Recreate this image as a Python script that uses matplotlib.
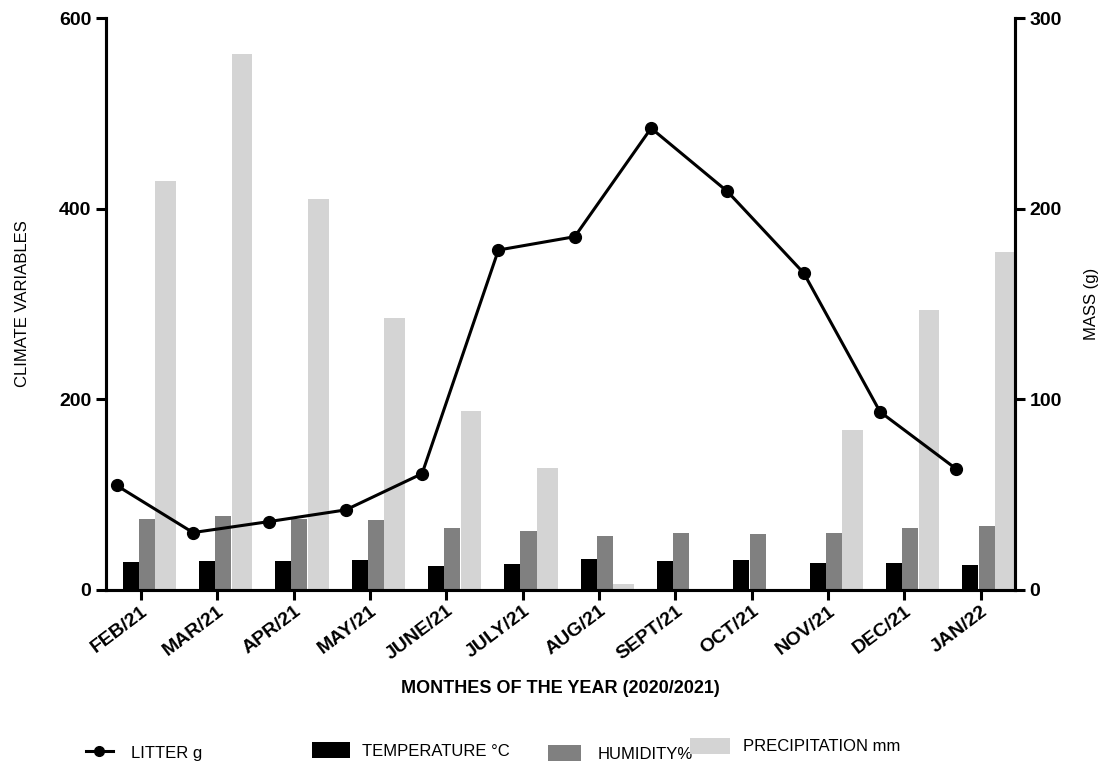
import matplotlib
matplotlib.use("Agg")
import matplotlib.pyplot as plt
from matplotlib.patches import Patch
from matplotlib.lines import Line2D
import numpy as np

months = ["FEB/21", "MAR/21", "APR/21", "MAY/21", "JUNE/21", "JULY/21",
          "AUG/21", "SEPT/21", "OCT/21", "NOV/21", "DEC/21", "JAN/22"]
temperature = [29.1, 30.1, 30.1, 31.9, 25.6, 27.7, 32.6, 30.1, 31.2, 28.0, 28.0, 26.6]
humidity = [74.9, 77.4, 74.3, 73.9, 65.1, 62.0, 57.1, 59.5, 58.8, 59.5, 64.8, 66.9]
precipitation = [428.7, 562.2, 410.5, 284.8, 187.8, 127.5, 6.6, 0, 0, 168.1, 294.2, 354.4]
litter = [54.8, 30.1, 35.9, 42.0, 61.0, 178.3, 185.3, 242.2, 209.0, 166.2, 93.4, 63.4]

plt.rcParams["font.family"] = ["Liberation Sans", "DejaVu Sans"]

fig = plt.figure(figsize=(11.02, 7.66), dpi=100)
ax = fig.add_axes([0.0962, 0.2298, 0.8248, 0.7467])
ax2 = ax.twinx()

x = np.arange(len(months))
ax.bar(x - 0.135, temperature, width=0.21, color="black", zorder=2)
ax.bar(x + 0.076, humidity, width=0.21, color="#808080", zorder=2)
ax.bar(x + 0.323, precipitation, width=0.27, color="#d4d4d4", zorder=2)

ax2.plot(x - 0.318, litter, color="black", lw=2.2, marker="o", ms=8.5, zorder=3)

ax.set_xlim(-0.458, 11.448)
ax.set_ylim(0, 600)
ax2.set_ylim(0, 300)
ax.set_yticks([0, 200, 400, 600])
ax2.set_yticks([0, 100, 200, 300])
ax.set_xticks(x)
ax.set_xticklabels(months, rotation=37, ha="right", rotation_mode="anchor",
                   fontweight="bold", fontsize=13.5)

for a in (ax, ax2):
    for s in a.spines.values():
        s.set_linewidth(2.2)
    a.spines["top"].set_visible(False)
    a.tick_params(width=2.2, length=7, labelsize=14)
    for lab in a.get_yticklabels():
        lab.set_fontweight("bold")
ax.tick_params(axis="x", pad=2)

ax.set_ylabel("CLIMATE VARIABLES", fontsize=12, labelpad=21)
ax2.set_ylabel("MASS (g)", fontsize=12, labelpad=16)
ax.set_xlabel("MONTHES OF THE YEAR (2020/2021)", fontsize=13, fontweight="bold",
              labelpad=12)

# one small legend per series, spaced along the bottom
entries = [
    (Line2D([], [], color="black", lw=2.2, marker="o", ms=7), "LITTER g", 0.078, 0.018, 1.6, 1.1),
    (Patch(facecolor="black"), "TEMPERATURE °C", 0.283, 0.020, 2.3, 0.7),
    (Patch(facecolor="#808080"), "HUMIDITY%", 0.497, 0.016, 2.0, 1.0),
    (Patch(facecolor="#d4d4d4"), "PRECIPITATION mm", 0.626, 0.026, 2.4, 0.8),
]
for h, lab, lx, ly, hl, tp in entries:
    fig.legend([h], [lab], loc="center left", bbox_to_anchor=(lx, ly),
               frameon=False, fontsize=12, handlelength=hl, handleheight=1.1,
               handletextpad=tp, borderpad=0, borderaxespad=0)

fig.savefig("out.png", dpi=100)
